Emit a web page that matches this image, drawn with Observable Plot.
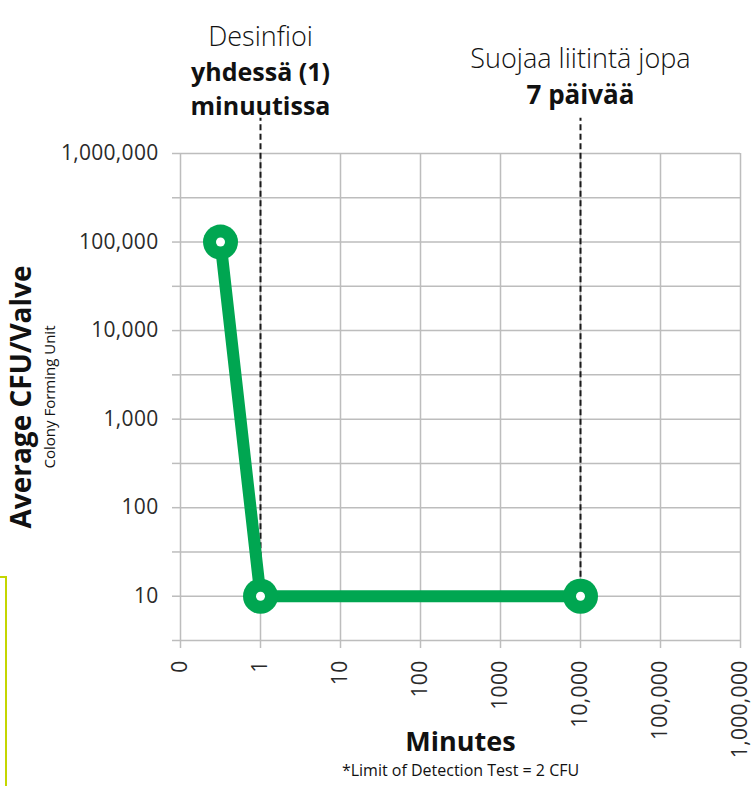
<!DOCTYPE html>
<html>
<head>
<meta charset="utf-8">
<script src="https://cdn.jsdelivr.net/npm/d3@7"></script>
<script src="https://cdn.jsdelivr.net/npm/@observablehq/plot@0.6"></script>
<style>
  html, body { margin: 0; padding: 0; background: #fff; overflow: hidden; }
  #wrap { position: relative; width: 752px; height: 786px; }
  #deco { position: absolute; left: -100px; top: 576px; width: 107px; height: 400px; border: 2px solid #c4d600; box-sizing: border-box; }
  g[aria-label="y-axis tick label"] text, g[aria-label="x-axis tick label"] text { letter-spacing: 0.3px; }
</style>
</head>
<body>
<div id="wrap"><div id="deco"></div></div>
<script>
// X axis: categorical-log positions (index) and their labels
const xPositions = [0, 1, 2, 3, 4, 5, 6, 7];
const xTickLabels = ["0", "1", "10", "100", "1000", "10,000", "100,000", "1,000,000"];
// Series: position on the minutes axis (index) and average CFU/valve
const seriesX = [0.5, 1, 5];
const seriesCFU = [100000, 10, 10];
// Y axis
const yTickValues = [10, 100, 1000, 10000, 100000, 1000000];
const yGridValues = [3.1623, 10, 31.623, 100, 316.23, 1000, 3162.3, 10000, 31623, 100000, 316228, 1000000];
// Annotation markers
const markerX = [1, 5];
const markerBase = [10, 10];
const markerTop = [2.5e6, 2.5e6];
const noteRegular = ["Desinfioi", "Suojaa liitintä jopa"];
const noteBold1 = ["yhdessä (1)", "7 päivää"];
const noteBold2 = ["minuutissa"];
// Titles
const yTitle = "Average CFU/Valve";
const ySubtitle = "Colony Forming Unit";
const xTitle = "Minutes";
const caption = "*Limit of Detection Test = 2 CFU";

const green = "#00a651";
const gridColor = "#bdbdbd";
const fontFamily = "'Open Sans', Lato, sans-serif";

const data = seriesX.map((x, i) => ({x, y: seriesCFU[i]}));
const markers = markerX.map((x, i) => ({x, y1: markerBase[i], y2: markerTop[i]}));
const fmt = d3.format(",");

const chart = Plot.plot({
  width: 752,
  height: 786,
  marginLeft: 180,
  marginRight: 12,
  marginTop: 153,
  marginBottom: 146,
  style: {fontFamily, background: "transparent", overflow: "visible"},
  x: {type: "linear", domain: [0, 7]},
  y: {type: "log", domain: [3.1623, 1000000]},
  marks: [
    Plot.gridY(yGridValues, {stroke: gridColor, strokeOpacity: 1, strokeWidth: 1.5}),
    Plot.gridX(xPositions, {stroke: gridColor, strokeOpacity: 1, strokeWidth: 1.5}),
    Plot.axisY(yGridValues, {
      tickSize: 8, tickPadding: 14, stroke: gridColor, strokeWidth: 1.5, strokeOpacity: 1,
      fill: "#2a2a2a", fontSize: 21, fontWeight: 400, label: null,
      tickFormat: d => yTickValues.some(v => Math.abs(v - d) < 1e-6) ? fmt(d) : ""
    }),
    Plot.axisX(xPositions, {
      tickSize: 8, tickPadding: 12, tickRotate: -90, stroke: gridColor, strokeWidth: 1.5, strokeOpacity: 1,
      fill: "#2a2a2a", fontSize: 21, fontWeight: 400, label: null,
      tickFormat: i => xTickLabels[i]
    }),
    Plot.ruleX(markers, {x: "x", y1: "y1", y2: "y2", stroke: "#1a1a1a", strokeWidth: 2, strokeDasharray: "6,3.5"}),
    Plot.line(data, {x: "x", y: "y", stroke: green, strokeWidth: 12, strokeLinejoin: "round"}),
    Plot.dot(data, {x: "x", y: "y", r: 17.5, fill: green, stroke: null}),
    Plot.dot(data, {x: "x", y: "y", r: 4.5, fill: "white", stroke: null}),
    // Annotations above the chart
    Plot.text([noteRegular[0]], {x: [markerX[0]], text: d => d, frameAnchor: "top", dy: -127, fontSize: 27, fill: "#111", fontWeight: 300}),
    Plot.text([noteBold1[0]], {x: [markerX[0]], text: d => d, frameAnchor: "top", dy: -90, fontSize: 25, fill: "#111", fontWeight: "bold"}),
    Plot.text([noteBold2[0]], {x: [markerX[0]], text: d => d, frameAnchor: "top", dy: -56, fontSize: 25, fill: "#111", fontWeight: "bold"}),
    Plot.text([noteRegular[1]], {x: [markerX[1]], text: d => d, frameAnchor: "top", dy: -105, fontSize: 27, fill: "#111", fontWeight: 300}),
    Plot.text([noteBold1[1]], {x: [markerX[1]], text: d => d, frameAnchor: "top", dy: -68, fontSize: 26, fill: "#111", fontWeight: "bold"}),
    // Axis titles
    Plot.text([yTitle], {frameAnchor: "left", textAnchor: "middle", dx: -158, rotate: -90, fontSize: 28, fontWeight: "bold", fill: "#111"}),
    Plot.text([ySubtitle], {frameAnchor: "left", textAnchor: "middle", dx: -130, rotate: -90, fontSize: 15, fill: "#111"}),
    Plot.text([xTitle], {frameAnchor: "bottom", dy: 110, fontSize: 27, fontWeight: "bold", fill: "#111"}),
    Plot.text([caption], {frameAnchor: "bottom", dy: 135, fontSize: 16, fill: "#111"})
  ]
});
document.getElementById("wrap").appendChild(chart);
chart.style.position = "absolute";
chart.style.left = "0";
chart.style.top = "0";
</script>
</body>
</html>
